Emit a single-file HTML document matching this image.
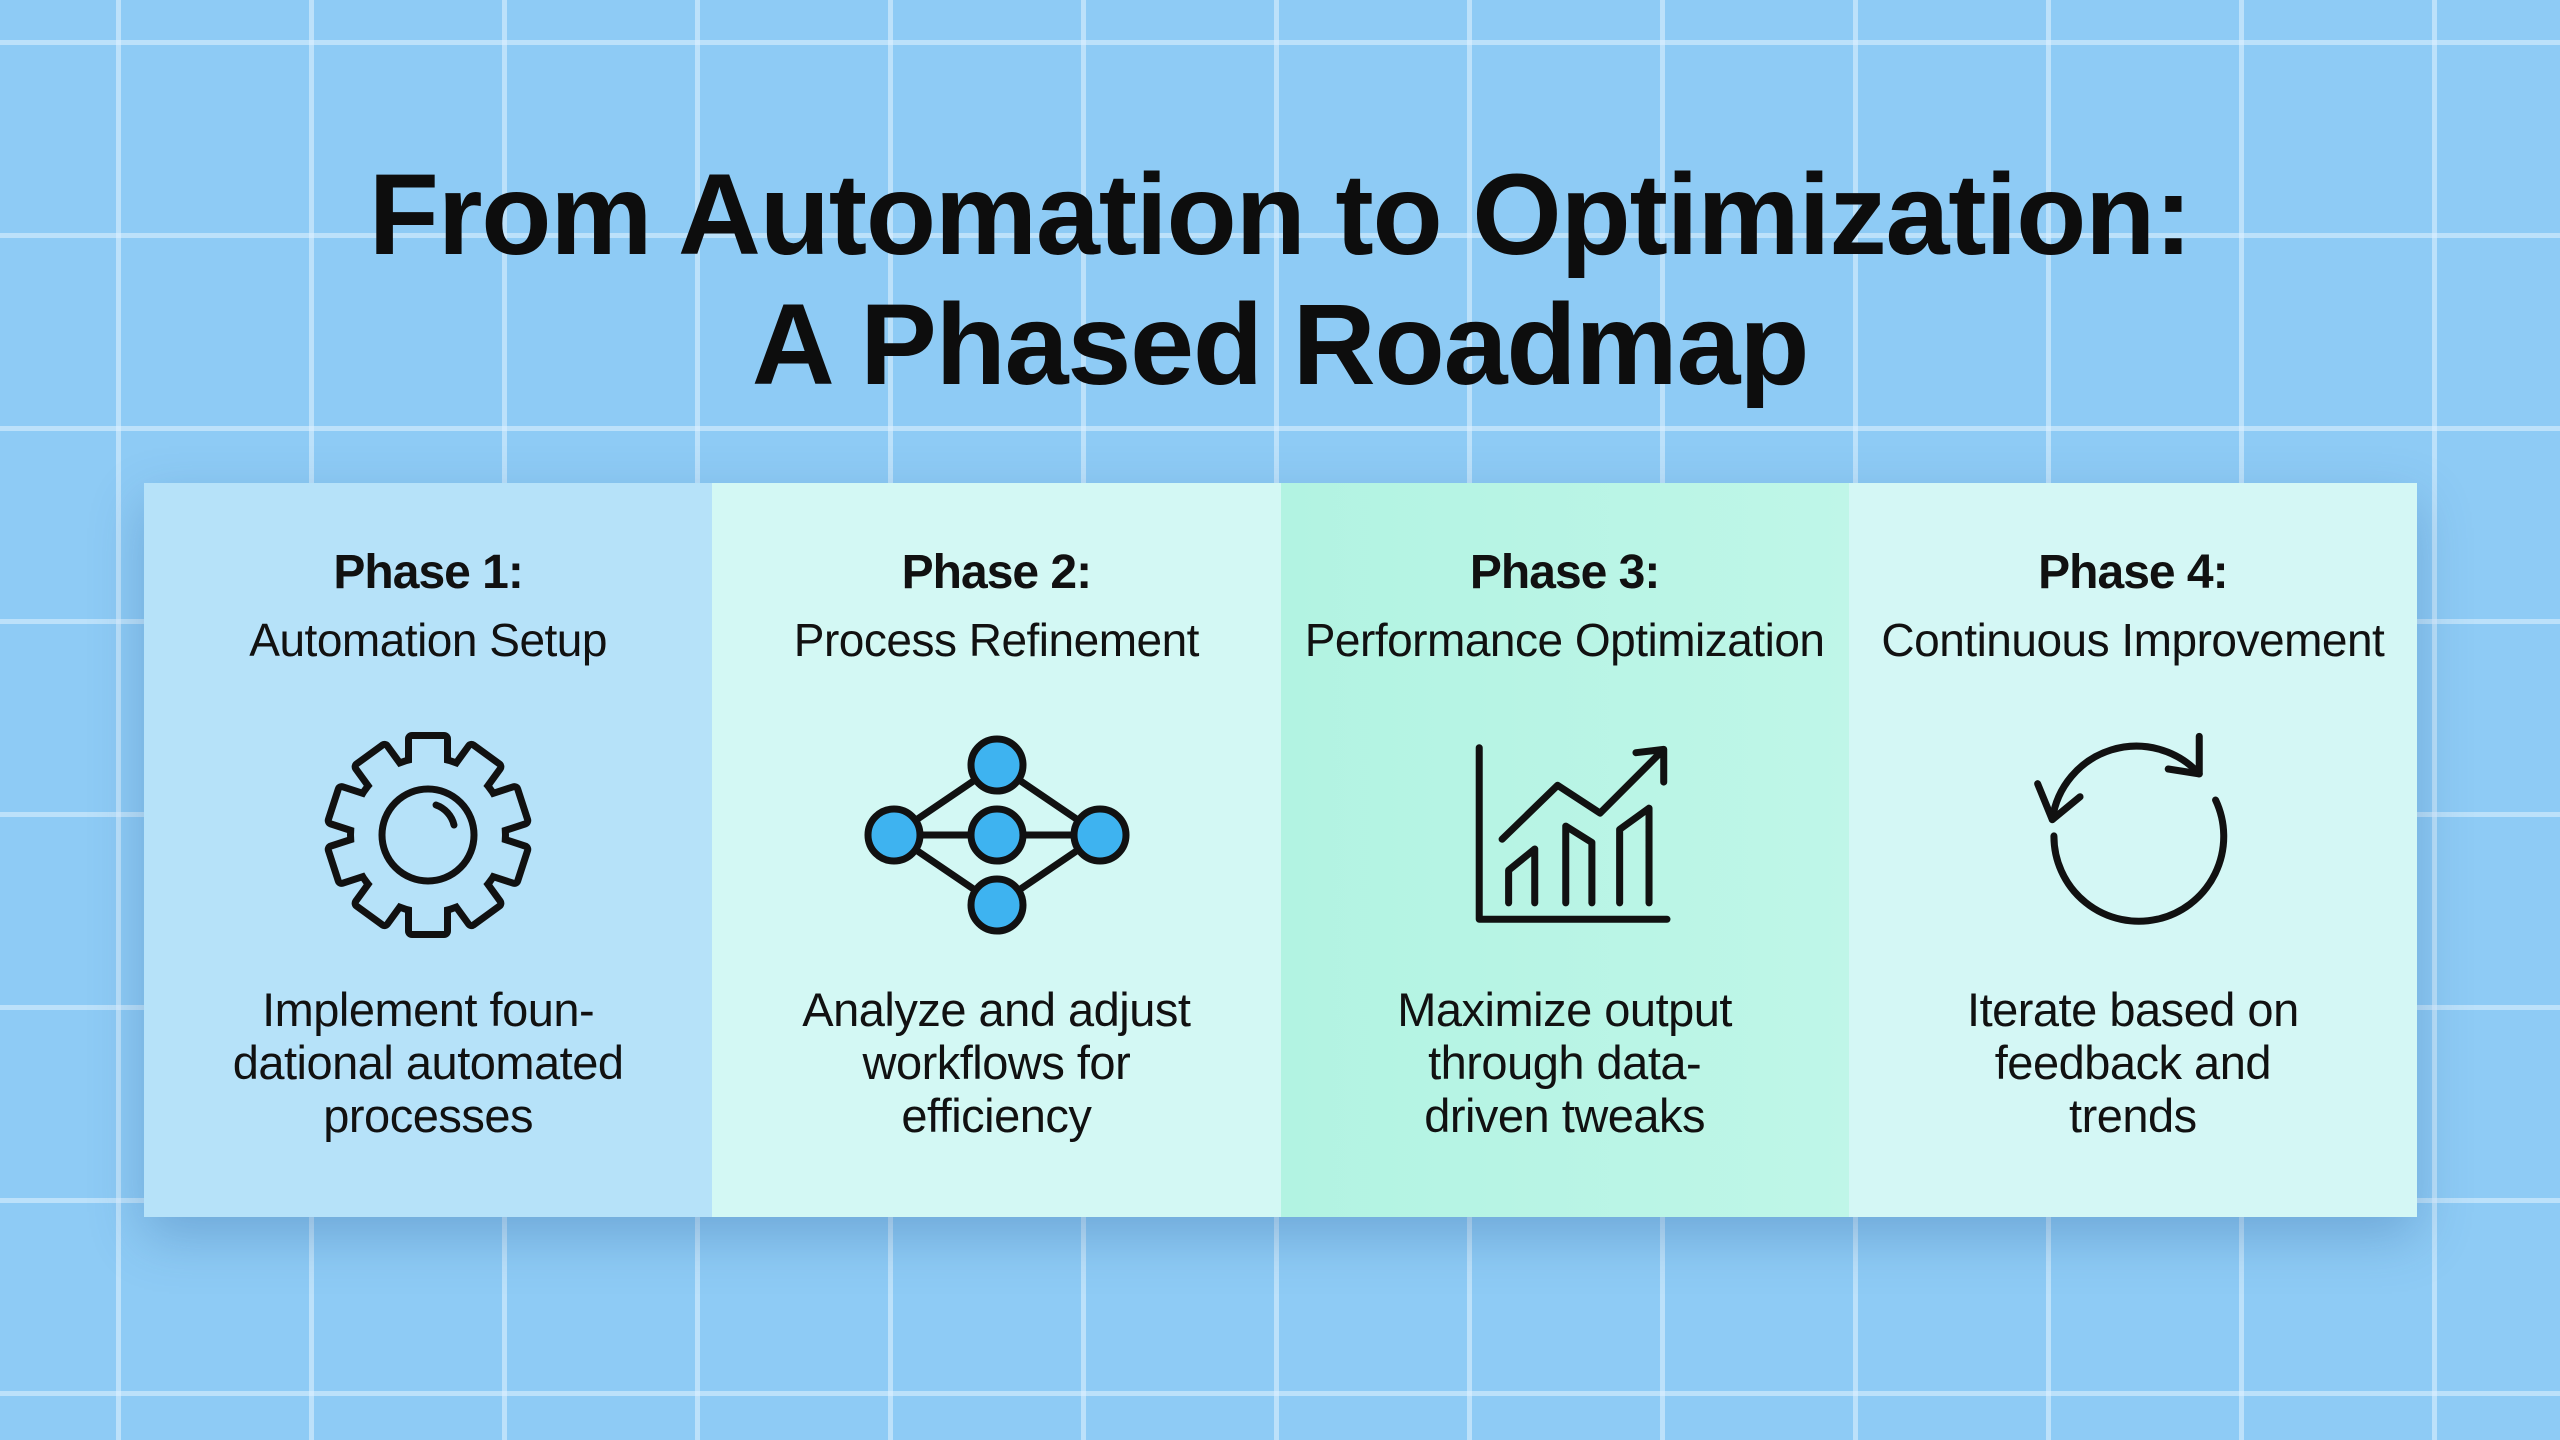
<!DOCTYPE html>
<html><head><meta charset="utf-8"><style>
html,body{margin:0;padding:0}
body{width:2560px;height:1440px;overflow:hidden;position:relative;font-family:"Liberation Sans",sans-serif;
background-color:#8ecbf5;
background-image:linear-gradient(90deg,rgba(225,242,255,0.55) 5px,transparent 5px),linear-gradient(0deg,rgba(225,242,255,0.55) 5px,transparent 5px);
background-size:193px 193px;background-position:116px 45px;}
.title{position:absolute;left:0;width:2560px;text-align:center;font-weight:bold;color:#0d0d0d;font-size:115px;letter-spacing:-1.2px;line-height:130px;top:150px}
.panel{position:absolute;left:144px;top:483px;width:2273px;height:734px;display:flex;box-shadow:0 20px 50px rgba(40,90,150,0.3)}
.col{flex:1;position:relative;text-align:center;color:#111}
.h{position:absolute;width:100%;font-weight:bold;font-size:48px;top:62px;letter-spacing:-1px}
.s{position:absolute;top:130px;width:100%;font-size:46px;letter-spacing:-0.5px}
.d{position:absolute;top:500px;width:100%;font-size:47px;line-height:53px;letter-spacing:-0.5px}
svg.ic{position:absolute;left:0;top:0}
</style></head><body>
<div class="title">From Automation to Optimization:<br>A Phased Roadmap</div>
<div class="panel">
<div class="col" style="background:#b6e2f9"><div class="h">Phase 1:</div><div class="s">Automation Setup</div><div class="d">Implement foun-<br>dational automated<br>processes</div></div>
<div class="col" style="background:#d3f8f4"><div class="h">Phase 2:</div><div class="s">Process Refinement</div><div class="d">Analyze and adjust<br>workflows for<br>efficiency</div></div>
<div class="col" style="background:linear-gradient(90deg,#b2f3e2,#bff6e8)"><div class="h">Phase 3:</div><div class="s">Performance Optimization</div><div class="d">Maximize output<br>through data-<br>driven tweaks</div></div>
<div class="col" style="background:#d4f7f5"><div class="h">Phase 4:</div><div class="s">Continuous Improvement</div><div class="d">Iterate based on<br>feedback and<br>trends</div></div>
</div>
<svg class="ic" width="2560" height="1440" viewBox="0 0 2560 1440" fill="none" stroke="#111" stroke-width="7" stroke-linecap="round" stroke-linejoin="round">
<defs>
<g id="gear">
<rect x="-16" y="-96" width="32" height="40" transform="rotate(0)"/>
<rect x="-16" y="-96" width="32" height="40" transform="rotate(36)"/>
<rect x="-16" y="-96" width="32" height="40" transform="rotate(72)"/>
<rect x="-16" y="-96" width="32" height="40" transform="rotate(108)"/>
<rect x="-16" y="-96" width="32" height="40" transform="rotate(144)"/>
<rect x="-16" y="-96" width="32" height="40" transform="rotate(180)"/>
<rect x="-16" y="-96" width="32" height="40" transform="rotate(216)"/>
<rect x="-16" y="-96" width="32" height="40" transform="rotate(252)"/>
<rect x="-16" y="-96" width="32" height="40" transform="rotate(288)"/>
<rect x="-16" y="-96" width="32" height="40" transform="rotate(324)"/>
<circle r="74"/>
</g>
</defs>
<g transform="translate(428,835)">
<use href="#gear" fill="#111" stroke="#111" stroke-width="14"/>
<use href="#gear" fill="#b6e2f9" stroke="none"/>
<circle r="46"/>
<path d="M8 -30 A28 28 0 0 1 26 -10"/>
</g>
<g transform="translate(997,835)">
<path d="M0 -70 L-103 0 L0 70 L103 0 Z M-103 0 H103"/>
<g fill="#3eb3f0">
<circle cx="0" cy="-70" r="26"/><circle cx="-103" cy="0" r="26"/><circle cx="0" cy="0" r="26"/><circle cx="103" cy="0" r="26"/><circle cx="0" cy="70" r="26"/>
</g>
</g>
<g transform="scale(1.6327)" stroke-width="4.3">
<path d="M906 458 V563 H1021"/>
<path d="M920 514 L954 481 L980 498 L1019 459 M1002 461 L1019 459 L1019 479"/>
<path d="M924 553 V533 L940 520 V553 M959 553 V506 L975 516 V553 M992 553 V508 L1010 495 V553"/>
<g transform="translate(0,-9)">
<path d="M1257 511 A52 52 0 0 1 1347 483"/>
<path d="M1347 460 L1347 483 L1328 480"/>
<path d="M1248 489 L1257 511 L1274 497"/>
<path d="M1258 521 A52 52 0 1 0 1357 499"/>
</g>
</g>
</svg>
</body></html>
